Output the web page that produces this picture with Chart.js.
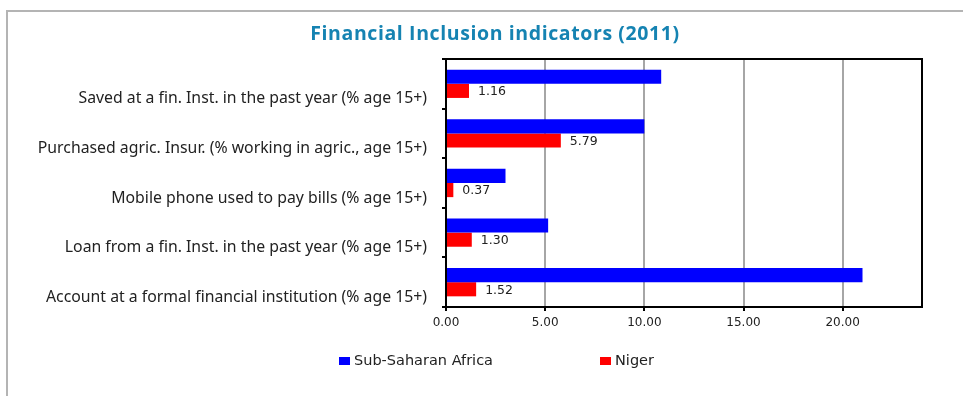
<!DOCTYPE html>
<html>
<head>
<meta charset="utf-8">
<title>Financial Inclusion indicators (2011)</title>
<script src="https://cdn.jsdelivr.net/npm/chart.js@4.4.1/dist/chart.umd.min.js"></script>
<style>
  html, body { margin: 0; padding: 0; background: #fff; overflow: hidden; }
  #wrap { position: relative; width: 963px; height: 396px; }
  #frame {
    position: absolute; left: 6px; top: 10px; right: -10px; bottom: -10px;
    border-top: 2px solid #b4b4b4; border-left: 2px solid #b4b4b4;
    pointer-events: none;
  }
  canvas { position: absolute; left: 0; top: 0; }
</style>
</head>
<body>
<div id="wrap">
  <div id="frame"></div>
  <canvas id="chart" width="963" height="396"></canvas>
</div>
<script>
const titleText = 'Financial Inclusion indicators (2011)';

const indicators = [
  'Saved at a fin. Inst. in the past year (% age 15+)',
  'Purchased agric. Insur. (% working in agric., age 15+)',
  'Mobile phone used to pay bills (% age 15+)',
  'Loan from a fin. Inst. in the past year (% age 15+)',
  'Account at a formal financial institution (% age 15+)'
];

const seriesNames = ['Sub-Saharan Africa', 'Niger'];
const subSaharan = [10.85, 10.0, 3.0, 5.15, 21.0];
const niger = [1.16, 5.79, 0.37, 1.30, 1.52];

const xTicks = [0, 5, 10, 15, 20];
const xMax = 24;

// title, plot frame, value labels and legend drawn on the canvas
const extras = {
  id: 'extras',
  afterDraw(chart) {
    const ctx = chart.ctx;
    const a = chart.chartArea;
    ctx.save();

    // black box round the plot
    ctx.strokeStyle = '#000';
    ctx.lineWidth = 2;
    ctx.strokeRect(a.left, a.top, a.right - a.left, a.bottom - a.top);

    // title
    ctx.fillStyle = '#1583b2';
    ctx.font = 'bold 19.5px "Open Sans", sans-serif';
    ctx.letterSpacing = '0.6px';
    ctx.textAlign = 'center';
    ctx.textBaseline = 'middle';
    ctx.fillText(titleText, 495, 34);
    ctx.letterSpacing = '0px';

    // values next to the Niger bars
    ctx.fillStyle = '#222';
    ctx.font = '12.5px "DejaVu Sans", sans-serif';
    ctx.textAlign = 'left';
    const meta = chart.getDatasetMeta(1);
    meta.data.forEach((bar, i) => {
      ctx.fillText(niger[i].toFixed(2), bar.x + 9, bar.y + 1);
    });

    // legend
    const starts = [339, 600];
    ctx.font = '14.5px "DejaVu Sans", sans-serif';
    chart.data.datasets.forEach((ds, i) => {
      const x = starts[i], y = 361;
      ctx.fillStyle = ds.backgroundColor;
      ctx.fillRect(x, y - 4, 11, 8);
      ctx.fillStyle = '#222';
      ctx.fillText(ds.label, x + 15, y);
    });

    ctx.restore();
  }
};

new Chart(document.getElementById('chart'), {
  type: 'bar',
  data: {
    labels: indicators,
    datasets: [{
      label: seriesNames[0],
      data: subSaharan,
      backgroundColor: '#0000ff',
      categoryPercentage: 0.57,
      barPercentage: 1.0
    }, {
      label: seriesNames[1],
      data: niger,
      backgroundColor: '#ff0000',
      categoryPercentage: 0.57,
      barPercentage: 1.0
    }]
  },
  options: {
    indexAxis: 'y',
    responsive: false,
    animation: false,
    layout: { padding: { top: 59, right: 41, bottom: 0, left: 0 } },
    scales: {
      x: {
        min: 0,
        max: xMax,
        afterBuildTicks: (scale) => {
          scale.ticks = xTicks.map(v => ({ value: v }));
        },
        afterFit: (scale) => { scale.height = 89; },
        grid: {
          color: (c) => c.tick && c.tick.value === 0 ? 'rgba(0,0,0,0)' : '#a6a6a6',
          lineWidth: 2,
          tickColor: '#000',
          tickLength: 4
        },
        border: { color: '#000', width: 2 },
        ticks: {
          color: '#222',
          font: { family: '"DejaVu Sans", sans-serif', size: 12 },
          padding: 5,
          callback: (v) => Number(v).toFixed(2)
        }
      },
      y: {
        afterFit: (scale) => { scale.width = 446; },
        grid: {
          drawOnChartArea: false,
          color: '#000',
          tickLength: 4,
          lineWidth: 2
        },
        border: { color: '#000', width: 2 },
        ticks: {
          color: '#222',
          font: { family: '"Noto Sans", sans-serif', size: 15.8 },
          padding: 15,
          labelOffset: 15
        }
      }
    },
    plugins: {
      legend: { display: false },
      title: { display: false },
      tooltip: { enabled: false }
    }
  },
  plugins: [extras]
});
</script>
</body>
</html>
